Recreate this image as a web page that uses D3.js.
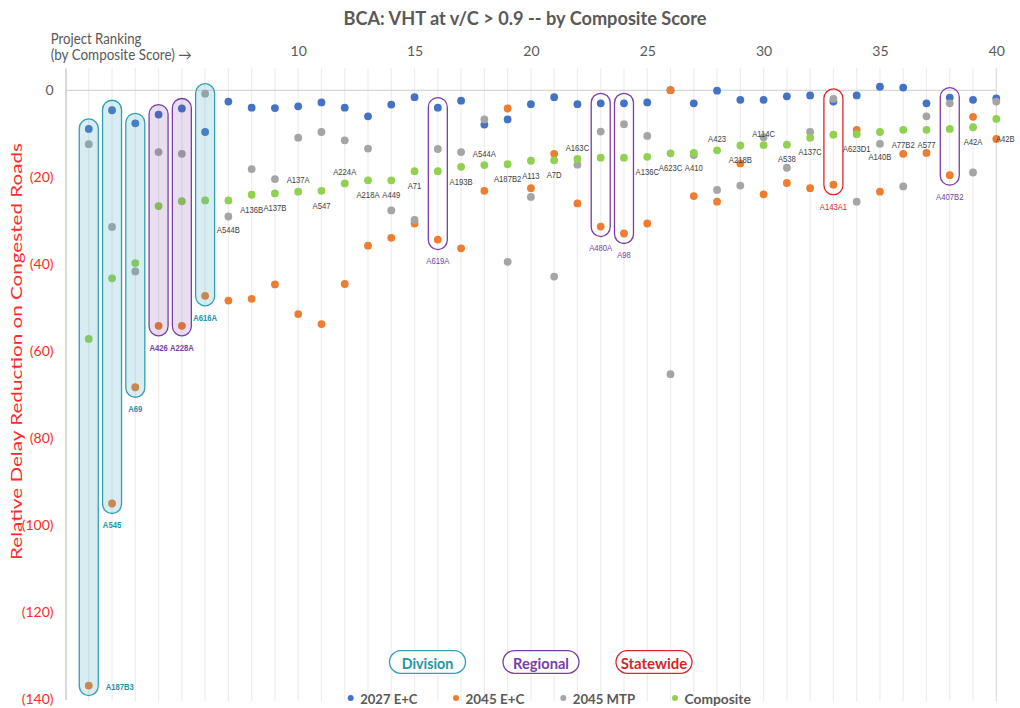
<!DOCTYPE html>
<html><head><meta charset="utf-8">
<script src="https://cdn.jsdelivr.net/npm/d3@7"></script>
<style>body{margin:0;background:#fff;} svg{display:block;}</style>
</head><body><svg id="chart" width="1020" height="708"></svg>
<script>
// ---------------- DATA ----------------
const ranks = d3.range(1, 41);
const seriesNames = ["2027 E+C", "2045 E+C", "2045 MTP", "Composite"];
const e2027 = [-9.0,-4.7,-7.7,-5.7,-4.3,-9.7,-2.7,-4.1,-4.2,-3.8,
               -2.9,-4.1,-6.1,-3.4,-1.7,-4.1,-2.5,-8.0,-6.8,-3.3,
               -1.7,-3.3,-3.1,-3.1,-2.9,-0.1,-3.1,-0.2,-2.3,-2.3,
               -1.5,-1.3,-2.7,-1.3,0.7,0.5,-3.1,-1.8,-2.3,-2.0];
const e2045 = [-136.8,-95.0,-68.3,-54.2,-54.2,-47.3,-48.4,-48.0,-44.7,-51.5,
               -53.8,-44.6,-35.8,-34.0,-30.7,-34.4,-36.4,-23.2,-4.3,-22.6,
               -14.7,-26.1,-31.4,-33.0,-30.7,-0.1,-24.4,-25.7,-16.9,-24.0,
               -21.4,-22.6,-21.8,-9.2,-23.4,-14.7,-14.5,-19.6,-6.2,-11.3];
const mtp2045 = [-12.5,-31.5,-41.7,-14.3,-14.7,-0.9,-29.1,-18.2,-20.5,-11.0,
                 -9.7,-11.6,-13.5,-27.7,-29.9,-13.6,-14.3,-6.8,-39.5,-24.6,
                 -42.9,-17.2,-9.6,-7.9,-10.6,-65.3,-15.0,-23.0,-22.0,-10.9,
                 -17.9,-9.7,-2.1,-25.7,-12.4,-22.2,-6.1,-3.1,-19.0,-2.7];
const composite = [-57.2,-43.3,-39.8,-26.7,-25.6,-25.4,-25.4,-24.1,-23.8,-23.4,
                   -23.2,-21.5,-20.8,-20.8,-18.7,-18.7,-17.7,-17.3,-17.1,-16.3,
                   -16.2,-15.9,-15.6,-15.6,-15.4,-14.6,-14.5,-13.9,-12.8,-12.7,
                   -12.6,-11.0,-10.3,-10.2,-9.7,-9.2,-9.2,-9.0,-8.6,-6.7];
const projectIds = ["A187B3","A545","A69","A426","A228A","A616A","A544B","A136B","A137B","A137A",
                    "A547","A224A","A218A","A449","A71","A619A","A193B","A544A","A187B2","A113",
                    "A7D","A163C","A480A","A98","A136C","A623C","A410","A423","A218B","A114C",
                    "A538","A137C","A143A1","A623D1","A140B","A77B2","A577","A407B2","A42A","A42B"];
const groupNames = ["Division", "Regional", "Statewide"];
const divisionRanks = [1, 2, 3, 6];
const regionalRanks = [4, 5, 16, 23, 24, 38];
const statewideRanks = [33];
const xTickValues = [10, 15, 20, 25, 30, 35, 40];
const yTickValues = [0, -20, -40, -60, -80, -100, -120, -140];
const titleText = "BCA: VHT at v/C > 0.9 -- by Composite Score";
const yTitleText = "Relative Delay Reduction on Congested Roads";
const xTitleLine1 = "Project Ranking";
const xTitleLine2 = "(by Composite Score) \u2192";

// ---------------- LAYOUT / STYLE ----------------
// label placement: b = below composite, a = above composite, g = below MTP,
// o = under oval, oR = right of oval, r = right of 2045 point
const labelPlace = ["oR","o","o","o","o","o","g","b","b","a",
                    "b","a","b","b","b","o","b","a","b","b",
                    "b","a","o","o","b","b","b","a","b","a",
                    "b","b","o","b","g","b","b","o","b","r"];
const filledOvalMaxRank = 6;
const seriesColors = ["#4472C4", "#ED7D31", "#A5A5A5", "#92D050"];
const groupStroke = {Division: "#31A0B3", Regional: "#7A3DAA", Statewide: "#E0262B"};
const groupText = {Division: "#2394A8", Regional: "#7A3DAA", Statewide: "#D91F26"};
const groupFill = {Division: "rgba(75,172,198,0.22)", Regional: "rgba(112,48,160,0.16)", Statewide: "none"};

const svg = d3.select("#chart");
const x = d3.scaleLinear().domain([0, 40]).range([65.5, 996.3]);
const y = d3.scaleLinear().domain([-140, 5]).range([699.5, 68]);
const labelFont = "'Liberation Sans',Arial,sans-serif";
const mainFont = "Lato,'Open Sans',sans-serif";

// gridlines
svg.append("g").selectAll("line").data(ranks).join("line")
  .attr("x1", d => x(d)).attr("x2", d => x(d))
  .attr("y1", y(5)).attr("y2", y(-140) + 1.5)
  .attr("stroke", d => d === 40 ? "#dcdcdc" : "#ededed").attr("stroke-width", 1.2);

// y axis
const yAxis = svg.append("g").attr("transform", `translate(${x(0)},0)`)
  .call(d3.axisLeft(y).tickValues(yTickValues).tickSize(0).tickSizeOuter(0).tickPadding(12)
    .tickFormat(d => d === 0 ? "0" : `(${-d})`));
yAxis.select(".domain").attr("stroke", "#c0c0c0").attr("stroke-width", 1.2);
yAxis.selectAll("text").attr("font-family", mainFont).attr("font-size", 14)
  .attr("fill", d => d === 0 ? "#595959" : "#FF2A2A");

// x axis (zero line with labels on top)
const xAxis = svg.append("g").attr("transform", `translate(0,${y(0)})`)
  .call(d3.axisTop(x).tickValues(xTickValues).tickSize(0).tickSizeOuter(0).tickPadding(33.8));
xAxis.select(".domain").attr("stroke", "#d6d6d6").attr("stroke-width", 1.2);
xAxis.selectAll("text").attr("font-family", mainFont).attr("font-size", 14).attr("fill", "#595959");

// points
const seriesData = [e2027, e2045, mtp2045, composite];
seriesData.forEach((vals, si) => {
  svg.append("g").selectAll("circle").data(ranks).join("circle")
    .attr("cx", d => x(d)).attr("cy", d => y(vals[d - 1])).attr("r", 3.9)
    .attr("fill", seriesColors[si]);
});

// ovals
const ovals = [];
divisionRanks.forEach(r => ovals.push({r, g: "Division"}));
regionalRanks.forEach(r => ovals.push({r, g: "Regional"}));
statewideRanks.forEach(r => ovals.push({r, g: "Statewide"}));
ovals.forEach(o => {
  const vs = seriesData.map(s => s[o.r - 1]);
  o.top = y(d3.max(vs)) - 10;
  o.bottom = y(d3.min(vs)) + 10;
});
svg.append("g").selectAll("rect").data(ovals).join("rect")
  .attr("x", d => x(d.r) - 9.5).attr("width", 19)
  .attr("y", d => d.top).attr("height", d => d.bottom - d.top)
  .attr("rx", 9.5).attr("ry", 9.5)
  .attr("fill", d => d.r <= filledOvalMaxRank ? groupFill[d.g] : "none")
  .attr("stroke", d => groupStroke[d.g]).attr("stroke-width", 1.3);

// labels
const ovalByRank = {};
ovals.forEach(o => ovalByRank[o.r] = o);
const labels = ranks.map(r => {
  const p = labelPlace[r - 1];
  let lx = x(r), ly, color = "#404040", bold = false;
  if (p === "b") ly = y(composite[r - 1]) + 14.5;
  else if (p === "a") ly = y(composite[r - 1]) - 11.5;
  else if (p === "g") ly = y(mtp2045[r - 1]) + 13;
  else if (p === "r") { lx = x(r) + 9; ly = y(e2045[r - 1]); }
  else {
    const o = ovalByRank[r];
    color = groupText[o.g]; bold = r <= filledOvalMaxRank;
    if (p === "o") ly = o.bottom + 11.5;
    else { lx = x(r) + 31; ly = y(e2045[r - 1]) + 1; }
  }
  return {r, t: projectIds[r - 1], lx, ly, color, bold};
});
svg.append("g").selectAll("text").data(labels).join("text")
  .attr("transform", d => `translate(${d.lx},${d.ly}) scale(0.8,1)`)
  .attr("text-anchor", "middle").attr("dominant-baseline", "central")
  .attr("font-family", labelFont).attr("font-size", 9.6)
  .attr("font-weight", d => d.bold ? "bold" : "normal")
  .attr("fill", d => d.color).text(d => d.t);

// title
svg.append("text").attr("x", 525).attr("y", 25).attr("text-anchor", "middle")
  .attr("font-family", mainFont).attr("font-weight", "bold").attr("font-size", 19)
  .attr("fill", "#595959").attr("textLength", 363).attr("lengthAdjust", "spacingAndGlyphs")
  .text(titleText);

// x title
svg.append("text").attr("x", 50.7).attr("y", 43.5)
  .attr("font-family", mainFont).attr("font-size", 14.5).attr("fill", "#595959")
  .attr("textLength", 90.7).attr("lengthAdjust", "spacingAndGlyphs").text(xTitleLine1);
svg.append("text").attr("x", 50.7).attr("y", 59.8)
  .attr("font-family", mainFont).attr("font-size", 14.5).attr("fill", "#595959")
  .attr("textLength", 141).attr("lengthAdjust", "spacingAndGlyphs").text(xTitleLine2);

// y title
svg.append("text").attr("transform", "translate(22,351.5) rotate(-90)")
  .attr("text-anchor", "middle").attr("font-family", mainFont).attr("font-size", 15)
  .attr("fill", "#FF2A2A").attr("textLength", 417).attr("lengthAdjust", "spacingAndGlyphs")
  .text(yTitleText);

// group legend (pills)
const pillCx = [427.5, 541, 654];
const pillTextW = [51.3, 56, 66.7];
groupNames.forEach((g, i) => {
  svg.append("rect").attr("x", pillCx[i] - 38).attr("y", 650.7).attr("width", 76).attr("height", 22.6)
    .attr("rx", 11.3).attr("fill", "#fff").attr("stroke", groupStroke[g]).attr("stroke-width", 1.3);
  svg.append("text").attr("x", pillCx[i]).attr("y", 662.5).attr("text-anchor", "middle")
    .attr("dominant-baseline", "central").attr("font-family", mainFont).attr("font-weight", "bold")
    .attr("font-size", 15).attr("fill", groupText[g])
    .attr("textLength", pillTextW[i]).attr("lengthAdjust", "spacingAndGlyphs").text(g);
});

// series legend
const legDotX = [350.7, 456, 563.3, 675];
const legTextW = [57.3, 59, 62.3, 66.3];
seriesNames.forEach((s, i) => {
  svg.append("circle").attr("cx", legDotX[i]).attr("cy", 698).attr("r", 3).attr("fill", seriesColors[i]);
  svg.append("text").attr("x", legDotX[i] + 9.5).attr("y", 698.5).attr("dominant-baseline", "central")
    .attr("font-family", mainFont).attr("font-weight", "bold").attr("font-size", 14)
    .attr("fill", "#595959").attr("textLength", legTextW[i]).attr("lengthAdjust", "spacingAndGlyphs").text(s);
});
</script></body></html>
